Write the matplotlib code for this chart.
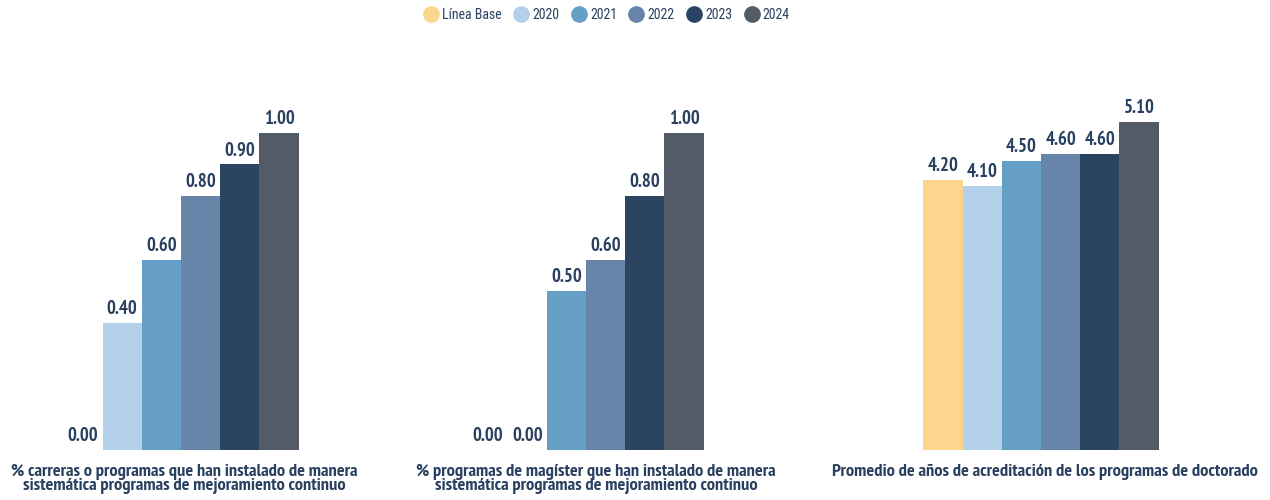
import matplotlib.pyplot as plt
from matplotlib.lines import Line2D

# series and values per indicator
series = ["Línea Base", "2020", "2021", "2022", "2023", "2024"]
colors = ["#FCD68C", "#B3D1EB", "#669FC5", "#6685A9", "#2A4462", "#525B66"]

indicators = [
    "% carreras o programas que han instalado de manera\nsistemática programas de mejoramiento continuo",
    "% programas de magíster que han instalado de manera\nsistemática programas de mejoramiento continuo",
    "Promedio de años de acreditación de los programas de doctorado",
]
carreras = [0.00, 0.40, 0.60, 0.80, 0.90, 1.00]
magister = [0.00, 0.00, 0.50, 0.60, 0.80, 1.00]
doctorado = [4.20, 4.10, 4.50, 4.60, 4.60, 5.10]
values = [carreras, magister, doctorado]

text_color = "#2A4060"
plt.rcParams["font.family"] = ["PT Sans Narrow", "Roboto Condensed", "DejaVu Sans"]

W, H = 1270, 500
fig = plt.figure(figsize=(W / 100, H / 100), dpi=100)

centers = [181, 586, 1041]      # group centres in px
bar_px = 39.2                    # bar width in px
ax_w = 400
ymax = [1.166, 1.166, 5.754]
label_dx = [3, 10, 4]

for i, vals in enumerate(values):
    left = (centers[i] - ax_w / 2) / W
    ax = fig.add_axes([left, 0.1, ax_w / W, 0.74])
    x = list(range(len(series)))
    ax.bar(x, vals, width=1.0, color=colors, linewidth=0)
    half = ax_w / 2 / bar_px
    ax.set_xlim(2.5 - half, 2.5 + half)
    ax.set_ylim(0, ymax[i])
    ax.axis("off")
    for xi, v in zip(x, vals):
        ax.annotate(f"{v:.2f}", (xi, v), xytext=(0, 3.5), textcoords="offset points",
                    ha="center", va="bottom", fontsize=13.5, fontweight="bold",
                    color=text_color)
    ax.text(2.5 + label_dx[i] / bar_px, -0.038, indicators[i], transform=ax.get_xaxis_transform(),
            ha="center", va="top", fontsize=13.2, fontweight="bold",
            color=text_color, linespacing=0.85)

handles = [Line2D([], [], marker="o", linestyle="", markersize=11,
                  markerfacecolor=c, markeredgecolor=c) for c in colors]
fig.legend(handles, series, loc="center", bbox_to_anchor=(607 / W, 1 - 15 / H),
           ncol=6, frameon=False, labelcolor=text_color,
           prop={"family": ["Roboto Condensed", "PT Sans Narrow", "DejaVu Sans"], "size": 10},
           handlelength=1.0, handletextpad=0.3, columnspacing=0.9)

fig.savefig("out.png", dpi=100)
